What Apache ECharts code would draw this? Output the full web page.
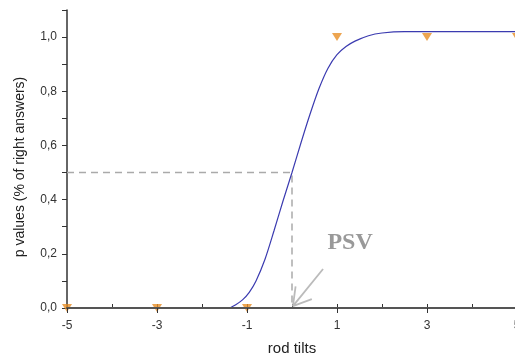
<!DOCTYPE html>
<html>
<head>
<meta charset="utf-8">
<script src="https://cdn.jsdelivr.net/npm/echarts@6/dist/echarts.min.js"></script>
<style>
  html, body { margin: 0; padding: 0; background: #fff; }
  #chart { width: 515px; height: 356px; }
</style>
</head>
<body>
<div id="chart"></div>
<script>
// measured points (rod tilt, p value)
const pointX = [-5, -3, -1, 1, 3, 5]
const pointY = [0, 0, 0, 1.0, 1.0, 1.0]

// fitted curve
const curveX = [-1.38, -1.25, -1.1, -0.95, -0.8, -0.6, -0.4, -0.2, 0, 0.2, 0.4, 0.6, 0.8, 1.0, 1.2, 1.4, 1.7, 2.0, 2.5, 5]
const curveY = [0, 0.012, 0.03, 0.058, 0.1, 0.18, 0.285, 0.395, 0.5, 0.61, 0.715, 0.81, 0.885, 0.935, 0.965, 0.985, 1.005, 1.015, 1.02, 1.02]

// dashed guide at p = 0.5
const guideX = [-5, 0, 0]
const guideY = [0.5, 0.5, 0]

// PSV annotation: label position and arrow (shaft + two barbs)
const psvLabel = [1.29, 0.24]
const arrowX = [0.69, 0.02, 0.44, 0.02, 0.08]
const arrowY = [0.144, 0.007, 0.033, 0.007, 0.08]

const zip = (xs, ys) => xs.map((x, i) => [x, ys[i]])

const chart = echarts.init(document.getElementById('chart'))

const fmtY = v => {
  const k = Math.round(v * 10)
  if (k % 2 !== 0) return ''
  return v.toFixed(1).replace('.', ',')
}

chart.setOption({
  animation: false,
  backgroundColor: '#fff',
  grid: { left: 67, right: -2, top: 10, bottom: 48, outerBoundsMode: 'none' },
  xAxis: [
    {
      type: 'value',
      min: -5,
      max: 5,
      interval: 2,
      position: 'bottom',
      name: 'rod tilts',
      nameLocation: 'middle',
      nameGap: 33,
      nameTextStyle: { fontFamily: 'Liberation Sans', fontSize: 15, color: '#222' },
      axisLine: { onZero: false, lineStyle: { color: '#555', width: 2 } },
      axisTick: { length: 5, lineStyle: { color: '#333' } },
      axisLabel: { fontFamily: 'Liberation Sans', fontSize: 12, color: '#333', margin: 12 },
      splitLine: { show: false },
      z: 5
    },
    {
      type: 'value',
      min: -5,
      max: 5,
      interval: 1,
      position: 'bottom',
      axisLine: { show: false },
      axisTick: { inside: true, length: 4, lineStyle: { color: '#333' } },
      axisLabel: { show: false },
      splitLine: { show: false }
    }
  ],
  yAxis: {
    type: 'value',
    min: 0,
    max: 1.1,
    interval: 0.1,
    name: 'p values (% of right answers)',
    nameLocation: 'middle',
    nameGap: 40,
    nameTextStyle: { fontFamily: 'Liberation Sans', fontSize: 14, color: '#222', padding: [0, 16, 0, 0] },
    axisLine: { show: true, onZero: false, lineStyle: { color: '#333', width: 1.5 } },
    axisTick: { show: true, length: 5, lineStyle: { color: '#333' } },
    axisLabel: { formatter: fmtY, fontFamily: 'Liberation Sans', fontSize: 12, color: '#333', margin: 10 },
    splitLine: { show: false }
  },
  series: [
    {
      type: 'line',
      data: zip(guideX, guideY),
      symbol: 'none',
      lineStyle: { color: '#aaa', width: 1.5, type: [7, 5] },
      z: 1
    },
    {
      type: 'line',
      data: zip(curveX, curveY),
      symbol: 'none',
      smooth: 0.3,
      lineStyle: { color: '#3b3bb0', width: 1.2 },
      z: 2
    },
    {
      type: 'scatter',
      data: zip(pointX, pointY),
      symbol: 'triangle',
      symbolRotate: 180,
      symbolSize: [10, 8],
      itemStyle: { color: '#e88f26' },
      z: 3
    },
    {
      type: 'line',
      data: zip(arrowX, arrowY),
      symbol: 'none',
      lineStyle: { color: '#bbb', width: 1.8 },
      z: 2
    },
    {
      type: 'scatter',
      data: [psvLabel],
      symbolSize: 0,
      label: {
        show: true,
        position: 'inside',
        formatter: 'PSV',
        fontFamily: 'Liberation Serif',
        fontWeight: 'bold',
        fontSize: 24,
        color: '#808080'
      },
      z: 3
    }
  ]
})
</script>
</body>
</html>
